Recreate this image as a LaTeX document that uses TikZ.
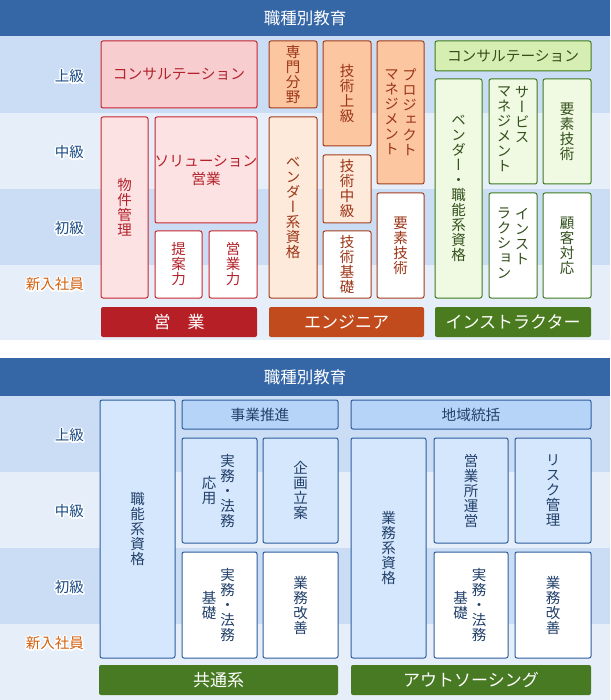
\documentclass[tikz,border=0pt]{standalone}
\usepackage{fontspec}
\setmainfont{Noto Sans CJK JP}
\newfontfamily\vjp{Noto Sans CJK JP}[RawFeature=+vert]
\usetikzlibrary{fit}
\definecolor{hdr}{HTML}{3566A6}
\definecolor{bandD}{HTML}{CADDF5}
\definecolor{bandL}{HTML}{E6EFF9}
\definecolor{lvtxt}{HTML}{1B4C85}
\definecolor{newtxt}{HTML}{D3600F}
% red
\definecolor{redD}{HTML}{C9252D}
\definecolor{redH}{HTML}{F8CDD0}
\definecolor{redL}{HTML}{FDE2E4}
\definecolor{redT}{HTML}{B3232B}
\definecolor{redB}{HTML}{B71F26}
% orange
\definecolor{oraD}{HTML}{A43D1C}
\definecolor{oraH}{HTML}{FCC6A0}
\definecolor{oraL}{HTML}{FEEADA}
\definecolor{oraT}{HTML}{9B3517}
\definecolor{oraB}{HTML}{C24B1D}
% green
\definecolor{grnD}{HTML}{3F7C1F}
\definecolor{grnH}{HTML}{D7EEB2}
\definecolor{grnL}{HTML}{F0F9E1}
\definecolor{grnT}{HTML}{33501D}
\definecolor{grnB}{HTML}{4B7B1F}
% blue
\definecolor{bluD}{HTML}{2E5D9D}
\definecolor{bluH}{HTML}{B5D4F7}
\definecolor{bluL}{HTML}{D5E7FC}
\definecolor{bluT}{HTML}{22406A}
\definecolor{botB}{HTML}{477A22}
\tikzset{
  bx/.style={rounded corners=2pt, line width=1pt, inner sep=0pt},
  rH/.style={bx, draw=redD, fill=redH}, rL/.style={bx, draw=redD, fill=redL}, rW/.style={bx, draw=redD, fill=white},
  oH/.style={bx, draw=oraD, fill=oraH}, oL/.style={bx, draw=oraD, fill=oraL}, oW/.style={bx, draw=oraD, fill=white},
  gH/.style={bx, draw=grnD, fill=grnH}, gL/.style={bx, draw=grnD, fill=grnL}, gW/.style={bx, draw=grnD, fill=white},
  bH/.style={bx, draw=bluD, fill=bluH}, bL/.style={bx, draw=bluD, fill=bluL}, bW/.style={bx, draw=bluD, fill=white},
  barbox/.style={rounded corners=2pt, inner sep=0pt, draw=none},
  vt/.style={font=\vjp\fontsize{14.5}{15}\selectfont, align=center, inner sep=0pt},
  ht/.style={font=\fontsize{14.7}{18}\selectfont, align=center, inner sep=0pt},
  bart/.style={font=\fontsize{17}{20}\selectfont, text=white, inner sep=0pt},
  ttl/.style={font=\fontsize{16.5}{20}\selectfont, text=white, inner sep=0pt},
  lv/.style={font=\fontsize{14.5}{18}\selectfont, anchor=east, inner sep=0pt}
}
\newcommand\mybox[6]{\node[#6, fit={(#2,#3)(#4,#5)}] (#1) {};}
% level label with a white outline (stroked copy underneath)
\newcommand\lvl[4]{%
  \node[lv,text=white] at (84,#2) {\special{pdf:code q 1 Tr 3 w 1 j 1 1 1 RG}#4\special{pdf:code Q}};
  \node[lv,text=#3] (#1) at (84,#2) {#4};}
\begin{document}
\begin{tikzpicture}[x=1pt,y=-1pt]
\useasboundingbox (0,0) rectangle (610,700);
% ---------- top section backgrounds ----------
\fill[bandD] (0,36) rectangle (610,113);
\fill[bandL] (0,113) rectangle (610,189);
\fill[bandD] (0,189) rectangle (610,265);
\fill[bandL] (0,265) rectangle (610,340);
\fill[hdr] (0,0) rectangle (610,36);
\node[ttl] (t1) at (305,18) {職種別教育};
\lvl{l1}{76}{lvtxt}{上級}
\lvl{l2}{152}{lvtxt}{中級}
\lvl{l3}{228}{lvtxt}{初級}
\lvl{l4}{284}{newtxt}{新入社員}
% ---------- sales ----------
\mybox{r1}{101}{41}{257}{108}{rH}
\node[ht,text=redT] at (r1) {コンサルテーション};
\mybox{r2}{101}{117}{148}{298}{rL}
\node[vt,text=redT] at (r2) {物\\件\\管\\理};
\mybox{r3}{155}{117}{257}{223}{rL}
\node[ht,text=redT] at (r3) {ソリューション\\営業};
\mybox{r4}{155}{231}{202}{298}{rW}
\node[vt,text=redT] at (r4) {提\\案\\力};
\mybox{r5}{209}{231}{257}{298}{rW}
\node[vt,text=redT] at (r5) {営\\業\\力};
\mybox{rb}{101}{307}{257}{337}{barbox,fill=redB}
\node[bart] at (rb) {営　業};
% ---------- engineer ----------
\mybox{o1}{269}{41}{317}{108}{oH}
\node[vt,text=oraT] at (o1) {専\\門\\分\\野};
\mybox{o2}{269}{117}{317}{298}{oL}
\node[vt,text=oraT] at (o2) {ベ\\ン\\ダ\\ー\\系\\資\\格};
\mybox{o3}{323}{41}{371}{146}{oH}
\node[vt,text=oraT] at (o3) {技\\術\\上\\級};
\mybox{o4}{323}{155}{371}{223}{oL}
\node[vt,text=oraT] at (o4) {技\\術\\中\\級};
\mybox{o5}{323}{231}{371}{298}{oW}
\node[vt,text=oraT] at (o5) {技\\術\\基\\礎};
\mybox{o6}{377}{41}{424}{184}{oH}
\node[vt,text=oraT] at ([xshift=9pt]o6.center) {プ\\ロ\\ジ\\ェ\\ク\\ト};
\node[vt,text=oraT] at ([xshift=-9pt]o6.center) {マ\\ネ\\ジ\\メ\\ン\\ト};
\mybox{o7}{377}{193}{424}{298}{oW}
\node[vt,text=oraT] at (o7) {要\\素\\技\\術};
\mybox{ob}{269}{307}{424}{337}{barbox,fill=oraB}
\node[bart] at (ob) {エンジニア};
% ---------- instructor ----------
\mybox{g1}{435}{41}{591}{71}{gH}
\node[ht,text=grnT] at (g1) {コンサルテーション};
\mybox{g2}{435}{79}{482}{298}{gL}
\node[vt,text=grnT] at (g2) {ベ\\ン\\ダ\\ー\\・\\職\\能\\系\\資\\格};
\mybox{g3}{489}{79}{537}{184}{gL}
\node[vt,text=grnT,anchor=north] at ([xshift=9pt,yshift=45pt]g3.center) {サ\\ー\\ビ\\ス};
\node[vt,text=grnT,anchor=north] at ([xshift=-9pt,yshift=45pt]g3.center) {マ\\ネ\\ジ\\メ\\ン\\ト};
\mybox{g4}{543}{79}{591}{184}{gL}
\node[vt,text=grnT] at (g4) {要\\素\\技\\術};
\mybox{g5}{489}{193}{537}{298}{gW}
\node[vt,text=grnT,anchor=north] at ([xshift=9pt,yshift=37.5pt]g5.center) {イ\\ン\\ス\\ト};
\node[vt,text=grnT,anchor=north] at ([xshift=-9pt,yshift=37.5pt]g5.center) {ラ\\ク\\シ\\ョ\\ン};
\mybox{g6}{543}{193}{591}{298}{gW}
\node[vt,text=grnT] at (g6) {顧\\客\\対\\応};
\mybox{gb}{435}{307}{591}{337}{barbox,fill=grnB}
\node[bart] at (gb) {インストラクター};
% ---------- bottom section backgrounds ----------
\fill[bandD] (0,396) rectangle (610,472);
\fill[bandL] (0,472) rectangle (610,548);
\fill[bandD] (0,548) rectangle (610,624);
\fill[bandL] (0,624) rectangle (610,700);
\fill[hdr] (0,358) rectangle (610,396);
\node[ttl] (t2) at (305,377) {職種別教育};
\lvl{m1}{435}{lvtxt}{上級}
\lvl{m2}{511}{lvtxt}{中級}
\lvl{m3}{587}{lvtxt}{初級}
\lvl{m4}{643}{newtxt}{新入社員}
% ---------- bottom boxes ----------
\mybox{b1}{100}{400}{175}{658}{bL}
\node[vt,text=bluT] at (b1) {職\\能\\系\\資\\格};
\mybox{b2}{182}{400}{338}{429}{bH}
\node[ht,text=bluT] at (b2) {事業推進};
\mybox{b3}{351}{400}{591}{429}{bH}
\node[ht,text=bluT] at (b3) {地域統括};
\mybox{b4}{182}{438}{257}{543}{bL}
\node[vt,text=bluT] at ([xshift=8pt]b4.center) {実\\務\\・\\法\\務};
\node[vt,text=bluT] at ([xshift=-10.5pt]b4.center) {応\\用};
\mybox{b5}{263}{438}{338}{543}{bL}
\node[vt,text=bluT] at (b5) {企\\画\\立\\案};
\mybox{b6}{351}{438}{426}{658}{bL}
\node[vt,text=bluT] at (b6) {業\\務\\系\\資\\格};
\mybox{b7}{434}{438}{508}{543}{bL}
\node[vt,text=bluT] at (b7) {営\\業\\所\\運\\営};
\mybox{b8}{515}{438}{591}{543}{bL}
\node[vt,text=bluT] at (b8) {リ\\ス\\ク\\管\\理};
\mybox{b9}{182}{552}{257}{658}{bW}
\node[vt,text=bluT] at ([xshift=8pt]b9.center) {実\\務\\・\\法\\務};
\node[vt,text=bluT] at ([xshift=-10.5pt]b9.center) {基\\礎};
\mybox{b10}{263}{552}{338}{658}{bW}
\node[vt,text=bluT] at (b10) {業\\務\\改\\善};
\mybox{b11}{434}{552}{508}{658}{bW}
\node[vt,text=bluT] at ([xshift=8pt]b11.center) {実\\務\\・\\法\\務};
\node[vt,text=bluT] at ([xshift=-10.5pt]b11.center) {基\\礎};
\mybox{b12}{515}{552}{591}{658}{bW}
\node[vt,text=bluT] at (b12) {業\\務\\改\\善};
\mybox{bb1}{99}{665}{338}{695}{barbox,fill=botB}
\node[bart] at (bb1) {共通系};
\mybox{bb2}{351}{665}{591}{695}{barbox,fill=botB}
\node[bart] at (bb2) {アウトソーシング};
\end{tikzpicture}
\end{document}
